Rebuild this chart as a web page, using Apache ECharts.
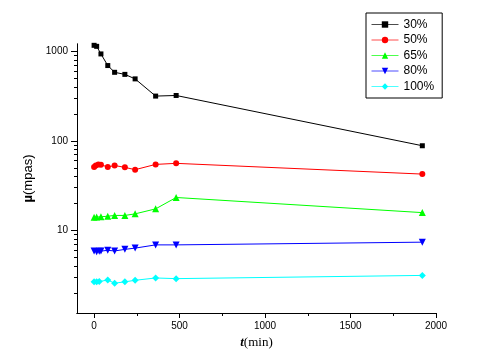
<!DOCTYPE html>
<html><head><meta charset="utf-8">
<script src="https://cdn.jsdelivr.net/npm/echarts@6/dist/echarts.min.js"></script>
<style>html,body{margin:0;padding:0;background:#fff}#c{width:480px;height:360px}</style>
</head><body><div id="c"></div>
<script>
const seriesNames = ['30%', '50%', '65%', '80%', '100%'];
const t30 = [0, 15, 40, 80, 120, 180, 240, 360, 480, 1920];
const v30 = [1160, 1130, 930, 690, 580, 550, 490, 315, 320, 88];
const t50 = [0, 10, 25, 40, 80, 120, 180, 240, 360, 480, 1920];
const v50 = [51, 53, 54.5, 54, 51, 53, 50.5, 47.6, 54.5, 56, 42.5];
const t65 = [0, 15, 40, 80, 120, 180, 240, 360, 480, 1920];
const v65 = [14.0, 14.1, 14.2, 14.4, 14.7, 14.7, 15.3, 17.4, 23.3, 15.8];
const t80 = [0, 15, 30, 40, 80, 120, 180, 240, 360, 480, 1920];
const v80 = [5.9, 5.8, 5.85, 5.9, 6.0, 5.9, 6.15, 6.35, 6.9, 6.9, 7.4];
const t100 = [0, 15, 30, 80, 120, 180, 240, 360, 480, 1920];
const v100 = [2.67, 2.67, 2.69, 2.8, 2.58, 2.67, 2.78, 2.95, 2.9, 3.15];
const xMajorTicks = [0, 500, 1000, 1500, 2000];
const xMinorTicks = [250, 750, 1250, 1750];
const yMajorTicks = [10, 100, 1000];
const yMinorTicks = [2,3,4,5,6,7,8,9,20,30,40,50,60,70,80,90,200,300,400,500,600,700,800,900];

const colors = ['#000000', '#ff0000', '#00ff00', '#0000ff', '#00ffff'];
const symbols = ['rect', 'circle', 'triangle', 'triangle', 'diamond'];
const rotations = [0, 0, 0, 180, 0];
const sizes = [5, 6, 7, 7, 7];
const times = [t30, t50, t65, t80, t100];
const vals = [v30, v50, v65, v80, v100];

const font = 'Liberation Sans, Arial, sans-serif';
const X = {min: -100, max: 2000};
const Y = {min: 1.2, max: 1200};
const plain = v => String(v);

const chart = echarts.init(document.getElementById('c'), null, {renderer: 'canvas'});
chart.setOption({
  animation: false,
  backgroundColor: '#fff',
  grid: {left: 77, right: 44, top: 44, bottom: 47, containLabel: false},
  legend: {
    orient: 'vertical', left: 366, top: 13,
    data: seriesNames,
    itemWidth: 27, itemHeight: 8, itemGap: 0.5,
    padding: [4, 8, 4, 5],
    borderColor: '#000', borderWidth: 1,
    lineStyle: {width: 1, opacity: 0.7},
    textStyle: {fontFamily: font, fontSize: 12, color: '#000', lineHeight: 15, padding: [0, 0, 0, 0]}
  },
  xAxis: [{
    type: 'value', min: X.min, max: X.max,
    name: '{i|t}{n|(min)}', nameLocation: 'middle', nameGap: 22,
    nameTextStyle: {rich: {
      i: {fontFamily: 'Liberation Serif, Times New Roman, serif', fontStyle: 'italic', fontWeight: 'bold', fontSize: 13, color: '#000'},
      n: {fontFamily: 'Liberation Serif, Times New Roman, serif', fontSize: 13, color: '#000'}
    }},
    axisLine: {show: true, onZero: false, lineStyle: {color: '#000', width: 1}},
    axisTick: {show: true, inside: false, length: 5, customValues: xMajorTicks, lineStyle: {color: '#000'}},
    axisLabel: {customValues: xMajorTicks, formatter: plain, fontFamily: font, fontSize: 10, color: '#000', margin: 8},
    splitLine: {show: false}
  }, {
    type: 'value', min: X.min, max: X.max, position: 'bottom', offset: 0,
    axisLine: {show: true, onZero: false, lineStyle: {color: '#000', width: 1}},
    axisTick: {show: true, inside: false, length: 3, customValues: xMinorTicks, lineStyle: {color: '#000'}},
    axisLabel: {show: false},
    splitLine: {show: false}
  }],
  yAxis: [{
    type: 'log', logBase: 10, min: Y.min, max: Y.max,
    name: '{b|µ}{n|(mpas)}', nameLocation: 'middle', nameGap: 33, nameRotate: 90,
    nameTextStyle: {rich: {
      b: {fontFamily: font, fontWeight: 'bold', fontSize: 13, color: '#000'},
      n: {fontFamily: font, fontSize: 13, color: '#000'}
    }},
    axisLine: {show: true, onZero: false, lineStyle: {color: '#000', width: 1}},
    axisTick: {show: true, inside: false, length: 6, customValues: yMajorTicks, lineStyle: {color: '#000'}},
    axisLabel: {customValues: yMajorTicks, formatter: plain, fontFamily: font, fontSize: 10, color: '#000', margin: 9},
    splitLine: {show: false}
  }, {
    // minor ticks of the log axis, placed on an exponent-valued companion axis
    type: 'value', min: Math.log10(Y.min), max: Math.log10(Y.max), position: 'left', offset: 0,
    axisLine: {show: true, onZero: false, lineStyle: {color: '#000', width: 1}},
    axisTick: {show: true, inside: false, length: 3, customValues: yMinorTicks.map(Math.log10), lineStyle: {color: '#000'}},
    axisLabel: {show: false},
    splitLine: {show: false}
  }],
  series: seriesNames.map((name, k) => ({
    name: name, type: 'line', xAxisIndex: 0, yAxisIndex: 0,
    data: times[k].map((t, i) => [t, vals[k][i]]),
    symbol: symbols[k], symbolSize: sizes[k], symbolRotate: rotations[k],
    showAllSymbol: true,
    lineStyle: {color: colors[k], width: 1},
    itemStyle: {color: colors[k]},
    emphasis: {disabled: true}
  }))
});
</script></body></html>
